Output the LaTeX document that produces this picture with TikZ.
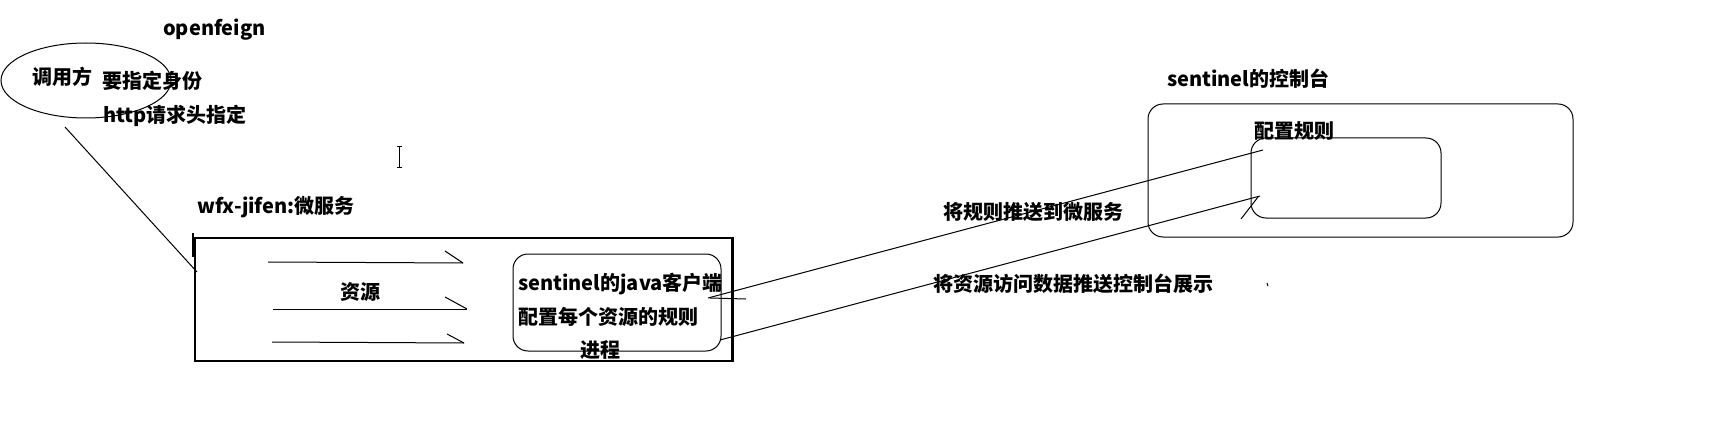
\documentclass[tikz,border=0pt]{standalone}
\usepackage{fontspec}
\newfontfamily\cjk{Noto Sans CJK SC}
\usetikzlibrary{shapes.geometric}
\tikzset{
  lbl/.style={font=\cjk\bfseries\fontsize{20}{24}\selectfont, inner sep=0pt, anchor=west},
  thin/.style={line width=1pt, draw=black},
  boxs/.style={draw=black, line width=1.2pt, inner sep=0pt, rectangle},
  rbox/.style={draw=black, line width=1pt, inner sep=0pt, rectangle, rounded corners=15pt},
}
\begin{document}
\begin{tikzpicture}[x=1pt, y=-1pt]
\useasboundingbox (0,0) rectangle (1724,425);
\fill[white] (0,0) rectangle (1724,425);

% shapes
\node[draw=black, line width=1pt, ellipse, inner sep=0pt, minimum width=170pt, minimum height=75pt] (caller) at (86,80.5) {};
\node[boxs, minimum width=537pt, minimum height=123pt] (svc) at (463.5,299.5) {};
\draw[line width=2.4pt] (svc.north east) -- (svc.south east);
\node[rbox, minimum width=208pt, minimum height=97pt] (client) at (617,302.5) {};
\node[rbox, minimum width=425pt, minimum height=133pt] (console) at (1360.5,170.5) {};
\node[rbox, minimum width=190pt, minimum height=80pt] (rulebox) at (1346,178) {};

% texts
\node[lbl] (of) at (163,30) {openfeign};
\node[lbl] (callertxt) at (32,77) {调用方};
\node[lbl] (ident) at (102,81) {要指定身份};
\node[lbl] (hdr) at (103,116) {http请求头指定};
\node[lbl] (svcname) at (197,207) {wfx-jifen:微服务};
\node[lbl] (res) at (340,292) {资源};
\node[lbl] (clientname) at (518,284) {sentinel的java客户端};
\node[lbl] (cfgeach) at (518,317) {配置每个资源的规则};
\node[lbl] (proc) at (580,350) {进程};
\node[lbl] (consolename) at (1167,79) {sentinel的控制台};
\node[lbl] (cfgrule) at (1254,131) {配置规则};
\node[lbl] (push1) at (943,212) {将规则推送到微服务};
\node[lbl] (push2) at (933,284) {将资源访问数据推送控制台展示};

% coordinates
\coordinate (c1) at (65,127);
\coordinate (c2) at (197,272);
\coordinate (t1) at (193,233);
\coordinate (t2) at (193,257);
\coordinate (a1s) at (268,262); \coordinate (a1e) at (463,263); \coordinate (a1b) at (445,251);
\coordinate (a2s) at (273,309); \coordinate (a2e) at (467,309); \coordinate (a2b) at (445,297);
\coordinate (a3s) at (272,342); \coordinate (a3e) at (464,343); \coordinate (a3b) at (447,334);
\coordinate (la1) at (708,298); \coordinate (la2) at (1263,150);
\coordinate (st1) at (710,298); \coordinate (st2) at (746,299);
\coordinate (lb1) at (720,340); \coordinate (lb2) at (1260,196);
\coordinate (bb1) at (1241,219); \coordinate (bb2) at (1258,197);

% connectors
\draw[thin] (c1) -- (c2);
\draw[line width=1.6pt] (t1) -- (t2);
\draw[thin] (a1s) -- (a1e); \draw[thin] (a1b) -- (a1e);
\draw[thin] (a2s) -- (a2e); \draw[thin] (a2b) -- (a2e);
\draw[thin] (a3s) -- (a3e); \draw[thin] (a3b) -- (a3e);
\draw[thin] (la1) -- (la2);
\draw[thin] (st1) -- (st2);
\draw[thin] (lb1) -- (lb2);
\draw[thin] (bb1) -- (bb2);

% text cursor artefact
\coordinate (i1) at (399.5,147); \coordinate (i2) at (399.5,167);
\draw[thin] (i1) -- (i2);
\draw[thin] (397,147) -- (402,147);
\draw[thin] (397,167) -- (402,167);
% small dot
\draw[thin] (1267,283) -- (1268,286);
\end{tikzpicture}
\end{document}
